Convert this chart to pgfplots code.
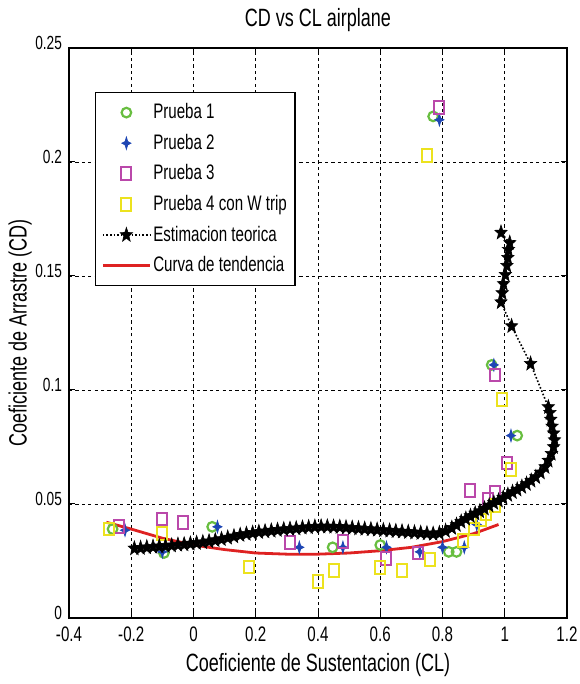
\documentclass[border=0pt]{standalone}
\usepackage{fontspec}
\setmainfont{Liberation Sans}[FakeStretch=0.72]
\usepackage{pgfplots}
\pgfplotsset{compat=1.18}
\usetikzlibrary{calc}

\definecolor{pgreen}{RGB}{104,190,64}
\definecolor{pblue}{RGB}{30,70,180}
\definecolor{pmag}{RGB}{186,72,170}
\definecolor{pyel}{RGB}{236,226,30}
\definecolor{pred}{RGB}{222,34,34}

% filled five-point star (MATLAB 'p')
\pgfdeclareplotmark{pstar}{%
  \pgfpathmoveto{\pgfpointpolar{90}{\pgfplotmarksize}}%
  \pgfpathlineto{\pgfpointpolar{126}{0.42\pgfplotmarksize}}%
  \pgfpathlineto{\pgfpointpolar{162}{\pgfplotmarksize}}%
  \pgfpathlineto{\pgfpointpolar{198}{0.42\pgfplotmarksize}}%
  \pgfpathlineto{\pgfpointpolar{234}{\pgfplotmarksize}}%
  \pgfpathlineto{\pgfpointpolar{270}{0.42\pgfplotmarksize}}%
  \pgfpathlineto{\pgfpointpolar{306}{\pgfplotmarksize}}%
  \pgfpathlineto{\pgfpointpolar{342}{0.42\pgfplotmarksize}}%
  \pgfpathlineto{\pgfpointpolar{18}{\pgfplotmarksize}}%
  \pgfpathlineto{\pgfpointpolar{54}{0.42\pgfplotmarksize}}%
  \pgfpathclose
  \pgfusepathqfillstroke}
% filled four-point star
\pgfdeclareplotmark{fstar}{%
  \pgfpathmoveto{\pgfpointpolar{90}{\pgfplotmarksize}}%
  \pgfpathlineto{\pgfpointpolar{135}{0.4\pgfplotmarksize}}%
  \pgfpathlineto{\pgfpointpolar{180}{\pgfplotmarksize}}%
  \pgfpathlineto{\pgfpointpolar{225}{0.4\pgfplotmarksize}}%
  \pgfpathlineto{\pgfpointpolar{270}{\pgfplotmarksize}}%
  \pgfpathlineto{\pgfpointpolar{315}{0.4\pgfplotmarksize}}%
  \pgfpathlineto{\pgfpointpolar{0}{\pgfplotmarksize}}%
  \pgfpathlineto{\pgfpointpolar{45}{0.4\pgfplotmarksize}}%
  \pgfpathclose
  \pgfusepathqfillstroke}

\begin{document}
\begin{tikzpicture}
\begin{axis}[
    scale only axis,
    width=249pt, height=285pt,
    xmin=-0.4, xmax=1.2, ymin=0, ymax=0.25,
    xtick={-0.4,-0.2,0,0.2,0.4,0.6,0.8,1,1.2},
    ytick={0,0.05,0.1,0.15,0.2,0.25},
    scaled ticks=false,
    yticklabel style={/pgf/number format/fixed, /pgf/number format/precision=2,
        font=\fontsize{9.5}{10}\selectfont, yshift=2.5pt},
    xticklabel style={font=\fontsize{10.5}{11}\selectfont, yshift=-1pt},
    /pgf/number format/assume math mode=true,
    grid=major,
    major grid style={black, dash pattern=on 1.6pt off 1.6pt, line width=0.45pt},
    tick align=inside,
    major tick length=3pt,
    tick style={black, line width=0.5pt},
    axis line style={line width=0.6pt},
    every axis title shift=0pt,
    title={CD vs CL airplane},
    title style={at={(axis description cs:0.5,1.049)}, anchor=center, font=\fontsize{12.5}{14}\selectfont},
    xlabel={Coeficiente de Sustentacion (CL)},
    xlabel style={at={(axis description cs:0.5,-0.0825)}, anchor=center, font=\fontsize{12.5}{14}\selectfont},
    ylabel={Coeficiente de Arrastre (CD)},
    ylabel style={at={(axis description cs:-0.098,0.5)}, anchor=center, font=\fontsize{12.5}{14}\selectfont},
    legend cell align=left,
    legend image code/.code={\draw[mark repeat=2,mark phase=2,#1] plot coordinates {(0pt,0pt) (11.75pt,0pt) (23.5pt,0pt)};},
    legend style={at={(axis description cs:0.052,0.923)}, anchor=north west,
        draw=black, fill=white, line width=0.6pt,
        font=\fontsize{10.5}{12}\selectfont,
        inner xsep=3pt, inner ysep=4.5pt, row sep=4.2pt,
        nodes={inner sep=1pt}},
]
\addplot[only marks, mark=o, mark size=2.4pt, color=pgreen, line width=1.1pt] coordinates {
    (-0.26,0.039) (-0.095,0.0285) (0.06,0.040) (0.447,0.031) (0.60,0.032)
    (0.82,0.029) (0.845,0.029) (0.958,0.111) (1.04,0.080) (0.77,0.220)
};
\addlegendentry{Prueba 1}

\addplot[only marks, mark=fstar, mark size=3pt, color=pblue, mark options={xscale=0.75, line width=0.4pt}] coordinates {
    (-0.22,0.0385) (-0.10,0.029) (0.077,0.040) (0.34,0.031) (0.48,0.031)
    (0.62,0.031) (0.727,0.029) (0.80,0.031) (0.87,0.031) (0.91,0.041)
    (0.965,0.111) (1.02,0.080) (0.79,0.2185)
};
\addlegendentry{Prueba 2}

\addplot[only marks, mark=square, mark size=3.2pt, color=pmag, line width=1pt, mark options={xscale=0.78}] coordinates {
    (-0.24,0.040) (-0.10,0.0434) (-0.035,0.042) (0.31,0.033) (0.48,0.0335)
    (0.62,0.026) (0.72,0.0285) (0.887,0.056) (0.945,0.052) (0.97,0.055)
    (1.006,0.068) (0.968,0.1066) (0.788,0.224)
};
\addlegendentry{Prueba 3}

\addplot[only marks, mark=square, mark size=3.2pt, color=pyel, line width=1pt, mark options={xscale=0.78}] coordinates {
    (-0.27,0.039) (-0.10,0.037) (0.177,0.0224) (0.40,0.016) (0.45,0.021)
    (0.60,0.022) (0.67,0.021) (0.76,0.0255) (0.865,0.034) (0.90,0.039)
    (0.925,0.043) (0.94,0.046) (0.97,0.0495) (1.02,0.065) (0.99,0.096)
    (0.75,0.203)
};
\addlegendentry{Prueba 4 con W trip}

\addplot[black, densely dotted, line width=0.8pt, mark=pstar, mark size=3.8pt,
    mark options={solid, xscale=0.85, line width=0.3pt, fill=black}] coordinates {
    (-0.19,0.0305) (-0.17,0.0307) (-0.15,0.0310) (-0.13,0.0312) (-0.11,0.0314)
    (-0.09,0.0316) (-0.07,0.0318) (-0.05,0.0321) (-0.03,0.0323) (-0.01,0.0326)
    (0.01,0.0329) (0.03,0.0332) (0.05,0.0336) (0.07,0.0341) (0.09,0.0346)
    (0.11,0.0352) (0.13,0.0358) (0.15,0.0364) (0.17,0.0369) (0.19,0.0373)
    (0.21,0.0377) (0.23,0.0380) (0.25,0.0383) (0.27,0.0386) (0.29,0.0389)
    (0.31,0.0391) (0.33,0.0393) (0.35,0.0396) (0.37,0.0398) (0.39,0.0400)
    (0.41,0.0401) (0.43,0.0401) (0.45,0.0400) (0.47,0.0399) (0.49,0.0397)
    (0.51,0.0395) (0.53,0.0393) (0.55,0.0391) (0.57,0.0389) (0.59,0.0387)
    (0.61,0.0385) (0.63,0.0383) (0.65,0.0381) (0.67,0.0379) (0.69,0.0377)
    (0.71,0.0375) (0.73,0.0373) (0.75,0.0371) (0.77,0.0369) (0.79,0.0372)
    (0.81,0.0382) (0.83,0.0395) (0.845,0.0408) (0.86,0.0422) (0.875,0.0435)
    (0.89,0.0447) (0.905,0.0458) (0.92,0.0468) (0.935,0.0480) (0.95,0.0493)
    (0.965,0.0505) (0.98,0.0515) (0.995,0.0527) (1.01,0.0540) (1.025,0.0552)
    (1.04,0.0563) (1.055,0.0575) (1.07,0.0588) (1.085,0.0602) (1.10,0.0618)
    (1.115,0.0638) (1.13,0.0662) (1.14,0.0690) (1.15,0.0720) (1.157,0.0750)
    (1.16,0.0780) (1.157,0.0810) (1.152,0.0840) (1.148,0.0870) (1.145,0.0900)
    (1.14,0.0925) (1.083,0.1115) (1.022,0.1280) (0.988,0.1385) (0.992,0.1425)
    (0.996,0.1465) (1.002,0.1505) (1.007,0.1545) (1.010,0.1580) (1.012,0.1615)
    (1.016,0.1645) (0.988,0.1690)
};
\addlegendentry{Estimacion teorica}

\addplot[pred, line width=1.4pt, no marks] coordinates {
    (-0.28,0.042) (-0.2,0.039) (-0.1,0.035) (0,0.032) (0.1,0.030)
    (0.2,0.0285) (0.3,0.028) (0.4,0.028) (0.5,0.0285) (0.6,0.0295)
    (0.7,0.031) (0.8,0.0335) (0.9,0.037) (0.98,0.041)
};
\addlegendentry{Curva de tendencia}
\end{axis}
\pgfresetboundingbox
\path ($(current axis.south west)+(-34.5pt,-33pt)$) rectangle ($(current axis.north east)+(6pt,24pt)$);
\end{tikzpicture}
\end{document}
